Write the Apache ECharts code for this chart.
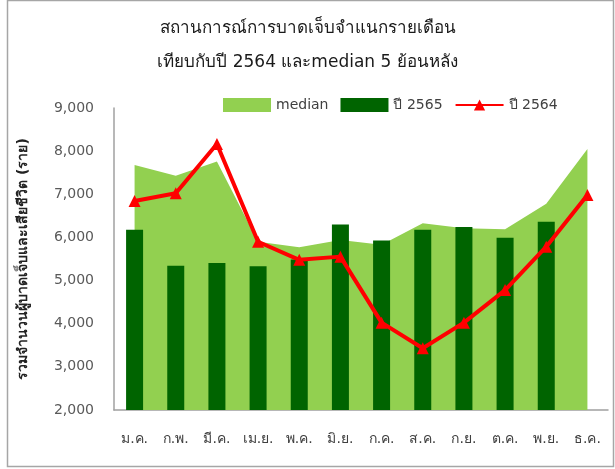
<!DOCTYPE html>
<html>
<head>
<meta charset="utf-8">
<script src="https://cdn.jsdelivr.net/npm/echarts@6/dist/echarts.min.js"></script>
<style>
  html, body { margin: 0; padding: 0; background: #fff; }
  #MainContent { width: 615px; height: 469px; }
</style>
</head>
<body>
<div id="MainContent"></div>
<script>
var months = ['ม.ค.', 'ก.พ.', 'มี.ค.', 'เม.ย.', 'พ.ค.', 'มิ.ย.', 'ก.ค.', 'ส.ค.', 'ก.ย.', 'ต.ค.', 'พ.ย.', 'ธ.ค.'];
var median = [7680, 7430, 7760, 5900, 5770, 5940, 5830, 6330, 6210, 6190, 6780, 8050];
var y2565 = [6180, 5345, 5410, 5330, 5490, 6300, 5930, 6180, 6240, 5995, 6365, null];
var y2564 = [6845, 7025, 8165, 5900, 5480, 5555, 4025, 3430, 4025, 4780, 5785, 6985];

var font = 'Tahoma, "DejaVu Sans", "Noto Sans", sans-serif';

function draw() {
    var chart = echarts.init(document.getElementById('MainContent'));

    var option = {
        backgroundColor: '#fff',
        textStyle: { fontFamily: font },
        title: {
            text: 'สถานการณ์การบาดเจ็บจำแนกรายเดือน\nเทียบกับปี 2564 และmedian 5 ย้อนหลัง',
            left: 'center',
            top: 7,
            textStyle: { fontSize: 17, fontWeight: 'normal', color: '#1a1a1a', lineHeight: 34, fontFamily: font }
        },
        legend: {
            left: 218,
            top: 93,
            itemWidth: 48,
            itemHeight: 14,
            itemGap: 12,
            textStyle: { fontSize: 14, color: '#404040', fontFamily: font },
            data: [
                { name: 'median', icon: 'rect' },
                { name: 'ปี 2565', icon: 'rect' },
                { name: 'ปี 2564' }
            ]
        },
        grid: { left: 114, right: 7, top: 108, bottom: 59 },
        xAxis: {
            type: 'category',
            data: months,
            axisLine: { lineStyle: { color: '#a0a0a0', width: 1.5 } },
            axisTick: { show: false },
            axisLabel: { fontSize: 14, color: '#404040', margin: 22, fontFamily: font }
        },
        yAxis: {
            type: 'value',
            min: 2000,
            max: 9000,
            interval: 1000,
            name: 'รวมจำนวนผู้บาดเจ็บและเสียชีวิต (ราย)',
            nameLocation: 'middle',
            nameRotate: 90,
            nameGap: 84,
            nameTextStyle: { fontSize: 14, fontWeight: 'bold', color: '#222', fontFamily: font },
            axisLine: { show: true, lineStyle: { color: '#a0a0a0', width: 1.5 } },
            axisTick: { show: false },
            splitLine: { show: false },
            axisLabel: {
                fontSize: 14, color: '#595959', margin: 20, fontFamily: font,
                formatter: function (v) { return v.toLocaleString('en-US'); }
            }
        },
        series: [
            {
                name: 'median',
                type: 'line',
                data: median,
                symbol: 'none',
                lineStyle: { width: 0, color: '#92d050' },
                itemStyle: { color: '#92d050' },
                areaStyle: { color: '#92d050', opacity: 1 },
                z: 1
            },
            {
                name: 'ปี 2565',
                type: 'bar',
                data: y2565,
                barWidth: 17,
                itemStyle: { color: '#006400' },
                z: 2
            },
            {
                name: 'ปี 2564',
                type: 'line',
                data: y2564,
                symbol: 'triangle',
                symbolSize: 12,
                lineStyle: { width: 4, color: '#ff0000' },
                itemStyle: { color: '#ff0000' },
                z: 3
            }
        ],
        graphic: [{
            type: 'rect',
            shape: { x: 7.5, y: 0.5, width: 606, height: 466 },
            style: { fill: null, stroke: '#a6a6a6', lineWidth: 1.5 },
            silent: true
        }]
    };

    chart.setOption(option);
    window.onresize = chart.resize;
}

draw();
</script>
</body>
</html>
